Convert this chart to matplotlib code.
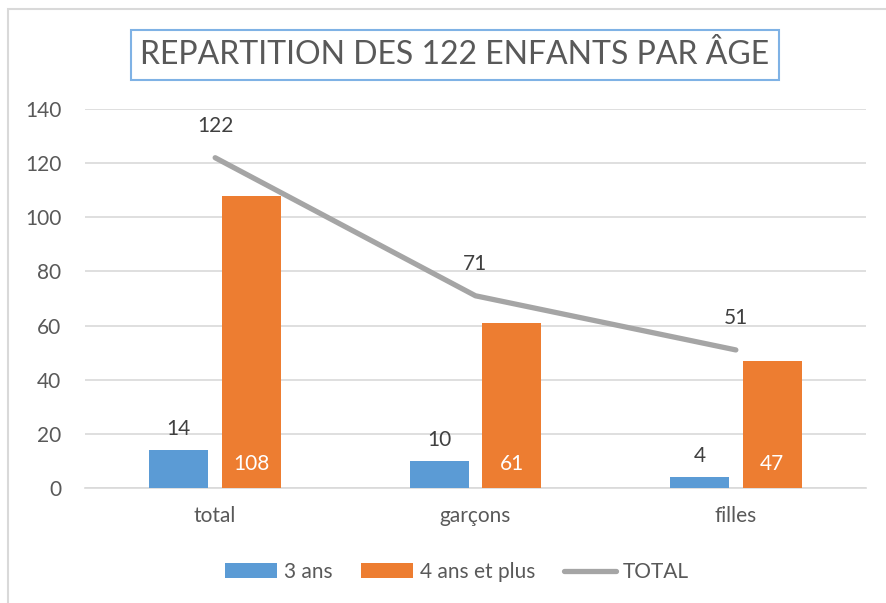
import matplotlib.pyplot as plt
from matplotlib.patches import Rectangle
import numpy as np

plt.rcParams['font.family'] = ['Lato', 'DejaVu Sans']

categories = ['total', 'garçons', 'filles']
trois_ans = [14, 10, 4]
quatre_ans = [108, 61, 47]
total = [122, 71, 51]
yticks = [0, 20, 40, 60, 80, 100, 120, 140]

BLUE = '#5B9BD5'
ORANGE = '#ED7D31'
GREY = '#A5A5A5'
TXT = '#595959'

W, H = 887, 603
fig = plt.figure(figsize=(W / 100, H / 100), dpi=100)
ax = fig.add_axes([85 / W, 1 - 488 / H, 781 / W, 379 / H])

# cadre du graphique (seulement haut et gauche visibles)
fig.add_artist(Rectangle((8.5 / W, -0.1), 1.2, 1 - 9.5 / H + 0.1, transform=fig.transFigure,
                         fill=False, edgecolor='#D9D9D9', linewidth=1.5))

x = np.arange(len(categories))
bw = 0.227
off = 0.14
b1 = ax.bar(x - off, trois_ans, bw, color=BLUE, label='3 ans', zorder=3)
b2 = ax.bar(x + off, quatre_ans, bw, color=ORANGE, label='4 ans et plus', zorder=3)
ln, = ax.plot(x, total, color=GREY, linewidth=3.8, solid_capstyle='round', label='TOTAL', zorder=4)

for xi, v in zip(x, trois_ans):
    ax.annotate(str(v), (xi - off, v), xytext=(0, 8), textcoords='offset points',
                ha='center', va='bottom', fontsize=15, color='#404040')
for xi, v in zip(x, quatre_ans):
    ax.annotate(str(v), (xi + off, 0), xytext=(0, 10), textcoords='offset points',
                ha='center', va='bottom', fontsize=15, color='white', zorder=5)
for xi, v in zip(x, total):
    ax.annotate(str(v), (xi, v), xytext=(0, 16), textcoords='offset points',
                ha='center', va='bottom', fontsize=15, color='#404040')

ax.set_xlim(-0.5, 2.5)
ax.set_ylim(0, 140)
ax.set_yticks(yticks)
ax.set_xticks(x)
ax.set_xticklabels(categories)
ax.tick_params(axis='both', length=0, labelsize=15, colors=TXT)
ax.tick_params(axis='y', pad=17)
ax.tick_params(axis='x', pad=13)
ax.grid(axis='y', color='#D9D9D9', linewidth=1.2, zorder=0)
for s in ['top', 'right', 'left']:
    ax.spines[s].set_visible(False)
ax.spines['bottom'].set_color('#D9D9D9')
ax.spines['bottom'].set_linewidth(1.2)

fig.text(455 / W, 1 - 55 / H, 'REPARTITION DES 122 ENFANTS PAR ÂGE', ha='center', va='center',
         fontsize=23, color=TXT,
         bbox=dict(boxstyle='square,pad=0.3', facecolor='white', edgecolor='#7FB2E5', linewidth=1.5))

fig.legend(handles=[b1, b2, ln], labels=['3 ans', '4 ans et plus', 'TOTAL'],
           loc='center', bbox_to_anchor=(457 / W, 1 - 572 / H), ncol=3, frameon=False,
           fontsize=15, labelcolor=TXT, handlelength=2.5, handleheight=0.75, columnspacing=1.4,
           handletextpad=0.3)

fig.savefig('out.png', dpi=100)
